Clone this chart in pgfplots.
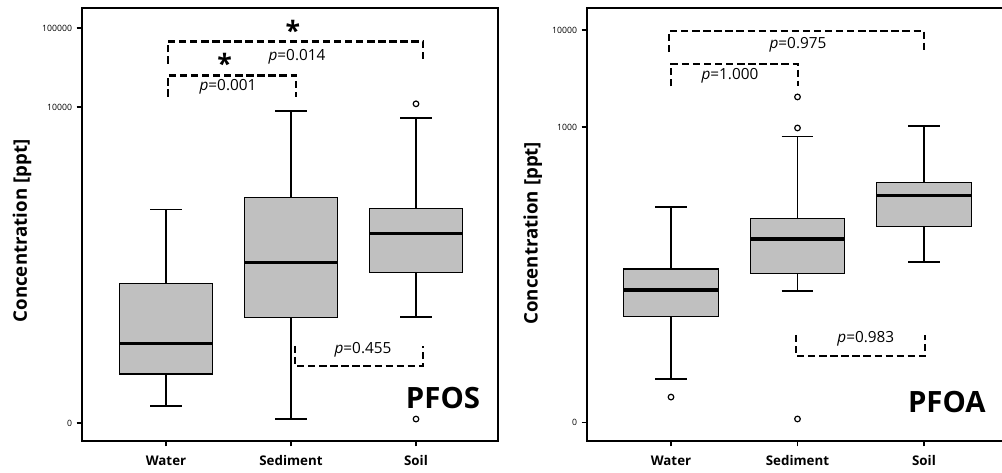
\documentclass[border=0pt]{standalone}
\usepackage{fontspec}
\setmainfont{Open Sans}
\usepackage{pgfplots}
\pgfplotsset{compat=1.18}
\usepgfplotslibrary{statistics}
\definecolor{boxgray}{RGB}{192,192,192}

% y values are log10(ppt); ticks relabelled to the original ppt values
\pgfplotsset{
  mypanel/.style={
    scale only axis,
    xtick={1,2,3}, xticklabels={Water,Sediment,Soil},
    axis line style={line width=1.1pt},
    tick style={line width=0.8pt, black},
    tick align=outside, major tick length=4pt,
    xtick pos=bottom, ytick pos=left,
    x tick label style={font=\bfseries\fontsize{10}{12}\selectfont, yshift=-3.5pt},
    y tick label style={font=\fontsize{6.5}{8}\selectfont},
    ylabel={Concentration [ppt]},
    ylabel style={font=\bfseries\fontsize{14}{16}\selectfont, anchor=center},
    clip=false,
  },
  mybox/.style={boxplot prepared={#1, draw direction=y, box extend=0.75, whisker extend=0.25,
    every box/.style={draw=black, line width=0.8pt, fill=boxgray},
    every whisker/.style={black, line width=1.1pt},
    every median/.style={black, line width=2.4pt}},
    mark=o, mark size=2.1pt, mark options={black, line width=0.9pt}},
}
\tikzset{
  brk/.style={line width=1.9pt, dash pattern=on 5.5pt off 2.8pt},
  pvtxt/.style={font=\fontsize{11.5}{13}\selectfont, inner sep=0pt},
  startxt/.style={font=\bfseries\fontsize{20}{20}\selectfont, inner sep=0pt, anchor=base},
  tagtxt/.style={font=\bfseries\fontsize{22}{24}\selectfont, inner sep=0pt},
}

\begin{document}
\begin{tikzpicture}

% PFOS
\begin{axis}[mypanel,
    at={(61.5pt,24pt)}, anchor=south west,
    width=312pt, height=324.75pt,
    xmin=0.328, xmax=3.656, ymin=-0.228, ymax=5.253,
    ytick={0,4,5}, yticklabels={0,10000,100000},
    ylabel style={at={(axis description cs:-0.144,0.485)}},
]
  \addplot[mybox={draw position=1, lower whisker=0.215, lower quartile=0.62, median=1.01, upper quartile=1.77, upper whisker=2.70}]
    coordinates {};
  \addplot[mybox={draw position=2, lower whisker=0.05, lower quartile=1.34, median=2.03, upper quartile=2.85, upper whisker=3.95}]
    coordinates {};
  \addplot[mybox={draw position=3, lower whisker=1.34, lower quartile=1.90, median=2.40, upper quartile=2.71, upper whisker=3.86}]
    coordinates {(0,4.04) (0,0.05)};

  \draw[brk] (axis cs:1.016,4.13) |- (axis cs:2.04,4.40) -- (axis cs:2.04,4.13);
  \node[pvtxt] at (axis cs:1.496,4.25) {\textit{p}=0.001};
  \node[startxt] at (axis cs:1.47,4.43) {*};
  \draw[brk] (axis cs:1.016,4.55) |- (axis cs:3.056,4.83) -- (axis cs:3.056,4.575);
  \node[pvtxt] at (axis cs:2.048,4.64) {\textit{p}=0.014};
  \node[startxt] at (axis cs:2.016,4.84) {*};
  \draw[brk] (axis cs:2.032,0.976) |- (axis cs:3.056,0.722) -- (axis cs:3.056,0.976);
  \node[pvtxt] at (axis cs:2.576,0.925) {\textit{p}=0.455};
  \node[tagtxt] at (axis cs:3.216,0.317) {PFOS};
\end{axis}

% PFOA
\begin{axis}[mypanel,
    at={(440.25pt,24pt)}, anchor=south west,
    width=317.25pt, height=324.75pt,
    xmin=0.336, xmax=3.68, ymin=-0.237, ymax=4.227,
    ytick={-0.05,3,4}, yticklabels={0,1000,10000},
    ylabel style={at={(axis description cs:-0.128,0.48)}},
]
  \addplot[mybox={draw position=1, lower whisker=0.40, lower quartile=1.05, median=1.32, upper quartile=1.536, upper whisker=2.175}]
    coordinates {(0,0.216)};
  \addplot[mybox={draw position=2, lower whisker=1.31, lower quartile=1.485, median=1.845, upper quartile=2.06, upper whisker=2.90}]
    coordinates {(0,3.31) (0,2.99) (0,-0.01)};
  \addplot[mybox={draw position=3, lower whisker=1.61, lower quartile=1.97, median=2.29, upper quartile=2.43, upper whisker=3.01}]
    coordinates {};

  \draw[brk] (axis cs:0.984,3.773) |- (axis cs:3.0,3.99) -- (axis cs:3.0,3.773);
  \node[pvtxt] at (axis cs:2.004,3.845) {\textit{p}=0.975};
  \draw[brk] (axis cs:1.0,3.42) |- (axis cs:2.004,3.65) -- (axis cs:2.004,3.42);
  \node[pvtxt] at (axis cs:1.466,3.526) {\textit{p}=1.000};
  \draw[brk] (axis cs:1.988,0.856) |- (axis cs:3.008,0.639) -- (axis cs:3.008,0.856);
  \node[pvtxt] at (axis cs:2.54,0.814) {\textit{p}=0.983};
  \node[tagtxt] at (axis cs:3.18,0.165) {PFOA};
\end{axis}

\pgfresetboundingbox
\useasboundingbox (0,0) rectangle (751.5pt,354.75pt);
\end{tikzpicture}
\end{document}
